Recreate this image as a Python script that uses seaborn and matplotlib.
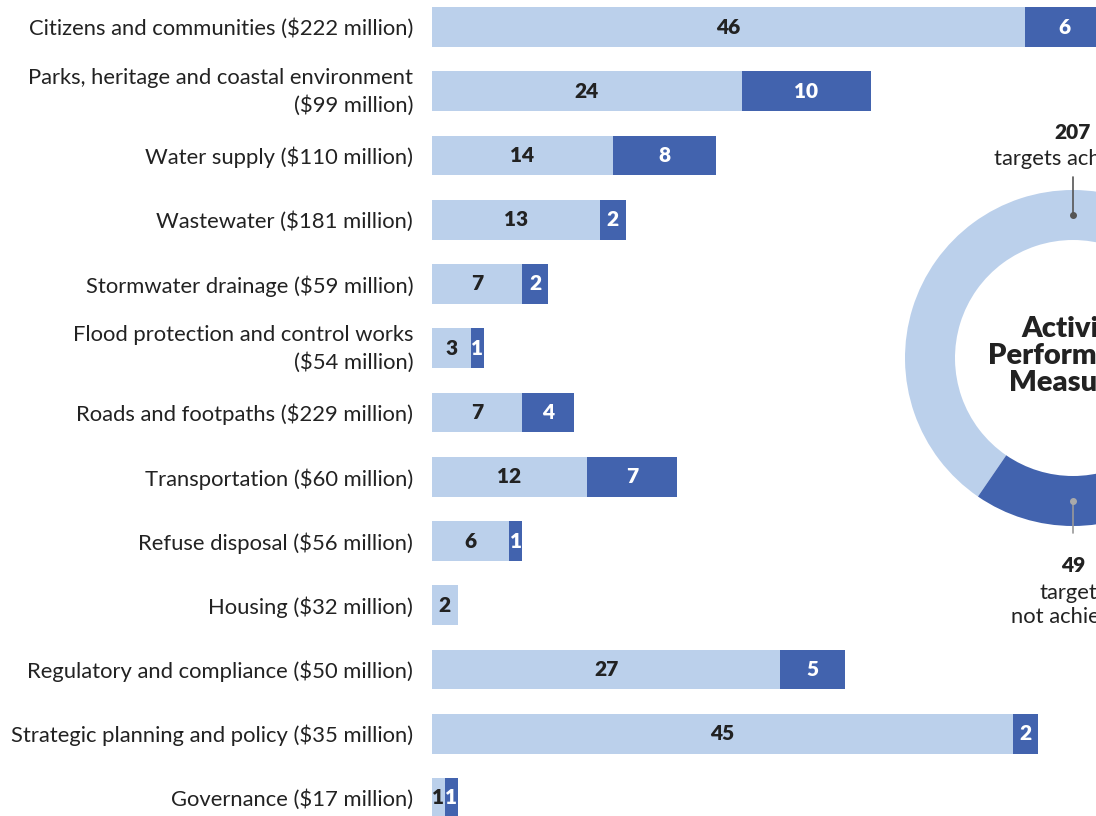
import matplotlib
matplotlib.use("Agg")
import matplotlib.pyplot as plt
import matplotlib.transforms as mtransforms
import seaborn as sns
import pandas as pd
import numpy as np

categories = [
    "Citizens and communities ($222 million)",
    "Parks, heritage and coastal environment\n($99 million)",
    "Water supply ($110 million)",
    "Wastewater ($181 million)",
    "Stormwater drainage ($59 million)",
    "Flood protection and control works\n($54 million)",
    "Roads and footpaths ($229 million)",
    "Transportation ($60 million)",
    "Refuse disposal ($56 million)",
    "Housing ($32 million)",
    "Regulatory and compliance ($50 million)",
    "Strategic planning and policy ($35 million)",
    "Governance ($17 million)",
]
achieved = [46, 24, 14, 13, 7, 3, 7, 12, 6, 2, 27, 45, 1]
not_achieved = [6, 10, 8, 2, 2, 1, 4, 7, 1, 0, 5, 2, 1]
donut_values = [207, 49]
donut_labels = [("207", "targets achieved"), ("49", "targets\nnot achieved")]
center_title = "Activity\nPerformance\nMeasures"

LIGHT = "#BBD0EB"
DARK = "#4263AE"
TEXT = "#222222"

sns.set_theme(style="white")
plt.rcParams["font.family"] = ["Lato", "DejaVu Sans"]

W, H = 1096, 816
fig = plt.figure(figsize=(W / 100, H / 100), dpi=100)

df = pd.DataFrame({"category": categories, "achieved": achieved,
                   "not_achieved": not_achieved})
df["total"] = df["achieved"] + df["not_achieved"]

# bar axes: x starts at 432px, ~12.9 px per unit; rows spaced ~64.25 px
px_per_unit = 12.9
x0 = 432
row = 64.25
top_px = 27 - row / 2
bot_px = top_px + row * len(categories)
ax = fig.add_axes([x0 / W, (H - bot_px) / H, (W - x0) / W, (bot_px - top_px) / H])

sns.barplot(data=df, x="total", y="category", color=DARK, orient="h",
            width=0.62, linewidth=0, saturation=1, ax=ax)
sns.barplot(data=df, x="achieved", y="category", color=LIGHT, orient="h",
            width=0.62, linewidth=0, saturation=1, ax=ax)

ax.set_xlim(0, (W - x0) / px_per_unit)
ax.set_ylim(len(categories) - 0.5, -0.5)
ax.set_xlabel("")
ax.set_ylabel("")
ax.set_xticks([])
for s in ax.spines.values():
    s.set_visible(False)
ax.tick_params(axis="y", length=0, pad=13.5, labelsize=15.8, labelcolor=TEXT)
shift_up = mtransforms.ScaledTranslation(0, 0.05, fig.dpi_scale_trans)
for lab in ax.get_yticklabels():
    lab.set_linespacing(1.45)
    if "\n" in lab.get_text():
        lab.set_transform(lab.get_transform() + shift_up)

for i, (a, n) in enumerate(zip(achieved, not_achieved)):
    if a > 0:
        ax.text(a / 2, i, str(a), ha="center", va="center", fontsize=15,
                fontweight="heavy", color=TEXT)
    if n > 0:
        ax.text(a + n / 2, i, str(n), ha="center", va="center", fontsize=15,
                fontweight="heavy", color="white")

# donut: center at (1073, 358) px, outer radius ~168 px, ring width ~50 px
cx, cy = 1073, 358
R, ring = 168, 50
half = 320
ax2 = fig.add_axes([(cx - half) / W, (H - cy - half) / H, 2 * half / W, 2 * half / H])
start = 270 - 360 * (donut_values[0] + donut_values[1] / 2) / sum(donut_values)
ax2.pie(donut_values, colors=[LIGHT, DARK], radius=R, startangle=start,
        counterclock=True, wedgeprops=dict(width=ring, linewidth=0))
ax2.set_xlim(-half, half)
ax2.set_ylim(-half, half)
ax2.set_aspect("equal")
ax2.axis("off")

midr = R - ring / 2
ax2.plot([0, 0], [midr, 181], color="#555555", lw=1.2)
ax2.plot([0], [midr], "o", color="#555555", ms=4)
ax2.plot([0, 0], [-midr, -175], color="#999999", lw=1.2)
ax2.plot([0], [-midr], "o", color="#aaaaaa", ms=4)

ax2.text(0, 226, donut_labels[0][0], ha="center", va="center", fontsize=15,
         fontweight="heavy", color=TEXT)
ax2.text(0, 199, donut_labels[0][1], ha="center", va="center", fontsize=15.8,
         color=TEXT)
ax2.text(0, -207, donut_labels[1][0], ha="center", va="center", fontsize=15,
         fontweight="heavy", color=TEXT)
ax2.text(0, -247, donut_labels[1][1], ha="center", va="center", fontsize=15.8,
         color=TEXT, linespacing=1.3)
ax2.text(0, 2, center_title, ha="center", va="center", fontsize=21,
         fontweight="heavy", color=TEXT, linespacing=1.05)

fig.savefig("out.png", dpi=100)
